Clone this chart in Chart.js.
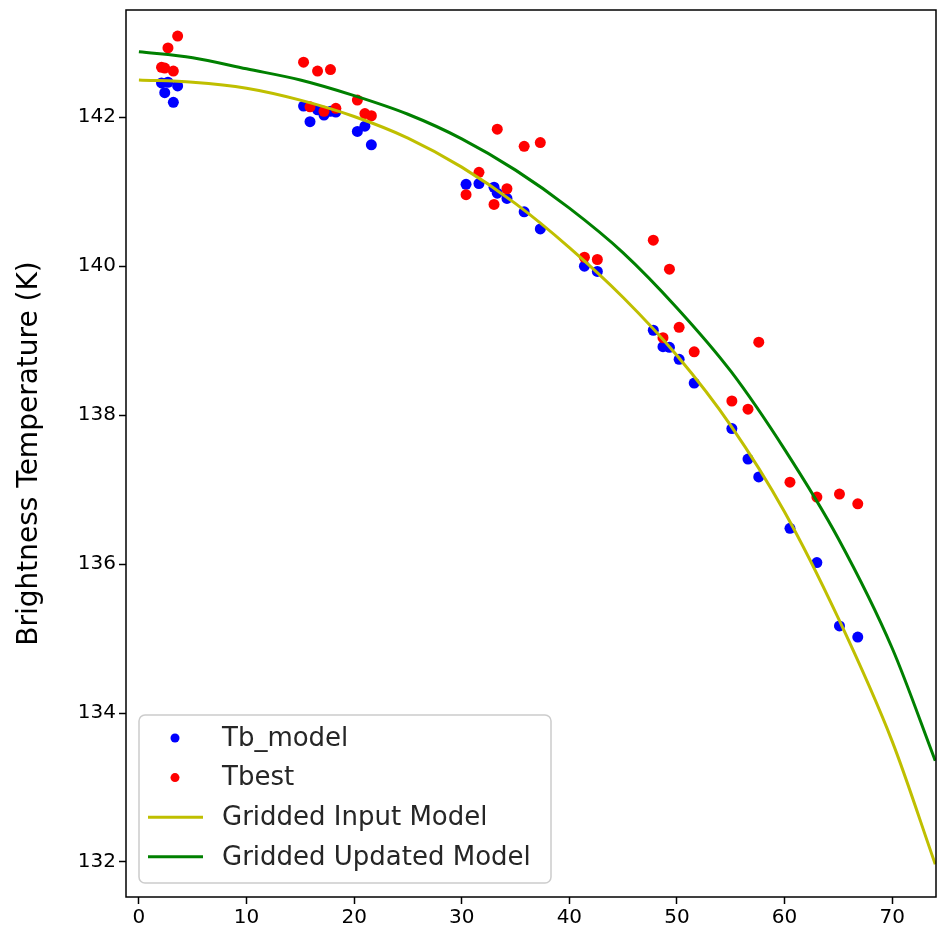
<!DOCTYPE html>
<html>
<head>
<meta charset="utf-8">
<script src="https://cdn.jsdelivr.net/npm/chart.js@4"></script>
<style>
    body { margin: 0; background: #fff; }
    #wrap { width: 938px; height: 942px; }
</style>
</head>
<body>
<div id="wrap"><canvas id="tbChart" width="938" height="942"></canvas></div>
<script>
// observation angles (shared by both point series)
const angles = [
    2.1, 2.4, 2.7, 3.2, 3.6,
    15.3, 15.9, 16.6, 17.2, 17.8, 18.3, 20.3, 21.0, 21.6,
    30.4, 31.6, 33.0, 33.3, 34.2, 35.8, 37.3,
    41.4, 42.6,
    47.8, 48.7, 49.3, 50.2, 51.6,
    55.1, 56.6, 57.6, 60.5, 63.0, 65.1, 66.8
];
const tbModel = [
    142.46, 142.33, 142.47, 142.20, 142.42,
    142.15, 141.94, 142.10, 142.03, 142.08, 142.07, 141.81, 141.88, 141.63,
    141.10, 141.11, 141.06, 140.98, 140.91, 140.73, 140.50,
    140.00, 139.93,
    139.14, 138.92, 138.91, 138.75, 138.43,
    137.82, 137.41, 137.17, 136.48, 136.02, 135.17, 135.02
];
const tbest = [
    142.67, 142.66, 142.93, 142.62, 143.09,
    142.74, 142.14, 142.62, 142.08, 142.64, 142.12, 142.23, 142.05, 142.02,
    140.96, 141.26, 140.83, 141.84, 141.04, 141.61, 141.66,
    140.12, 140.09,
    140.35, 139.04, 139.96, 139.18, 138.85,
    138.19, 138.08, 138.98, 137.10, 136.90, 136.94, 136.81
];

// gridded model curves
const gridAngles = [0, 5, 10, 15, 20, 25, 30, 35, 40, 45, 50, 55, 60, 65, 70, 74];
const inputModel = [142.50, 142.47, 142.39, 142.23, 142.01, 141.72, 141.33, 140.84, 140.25, 139.58, 138.80, 137.86, 136.70, 135.27, 133.62, 131.97];
const updatedModel = [142.88, 142.80, 142.65, 142.50, 142.29, 142.04, 141.71, 141.29, 140.78, 140.18, 139.44, 138.59, 137.54, 136.34, 134.87, 133.36];

const xTicks = [0, 10, 20, 30, 40, 50, 60, 70];
const yTicks = [132, 134, 136, 138, 140, 142];

const toPoints = (xs, ys) => xs.map((x, i) => ({ x: x, y: ys[i] }));

function noPad(s) {
    s.paddingTop = 0;
    s.paddingBottom = 0;
    s.paddingLeft = 0;
    s.paddingRight = 0;
}

// frame around the plot area
const frameBox = {
    id: 'frameBox',
    afterDatasetsDraw(chart) {
        const { ctx, chartArea: a } = chart;
        ctx.save();
        ctx.strokeStyle = '#000';
        ctx.lineWidth = 1.5;
        ctx.strokeRect(a.left, a.top, a.right - a.left, a.bottom - a.top);
        ctx.restore();
    }
};

// matplotlib style legend in the lower left corner
const innerLegend = {
    id: 'innerLegend',
    afterDraw(chart) {
        const ctx = chart.ctx;
        const a = chart.chartArea;
        const x = a.left + 13, y = a.bottom - 182, w = 412, h = 168;
        ctx.save();
        ctx.beginPath();
        ctx.roundRect(x, y, w, h, 6);
        ctx.fillStyle = 'rgba(255,255,255,0.8)';
        ctx.fill();
        ctx.strokeStyle = '#cccccc';
        ctx.lineWidth = 1.5;
        ctx.stroke();
        ctx.font = '26px "DejaVu Sans"';
        ctx.textBaseline = 'middle';
        chart.data.datasets.forEach((ds, i) => {
            const cy = y + 23 + i * 39.6;
            if (ds.showLine) {
                ctx.strokeStyle = ds.borderColor;
                ctx.lineWidth = 3;
                ctx.beginPath();
                ctx.moveTo(x + 9, cy);
                ctx.lineTo(x + 64, cy);
                ctx.stroke();
            } else {
                ctx.fillStyle = ds.backgroundColor;
                ctx.beginPath();
                ctx.arc(x + 36, cy, 4.5, 0, Math.PI * 2);
                ctx.fill();
            }
            ctx.fillStyle = '#262626';
            ctx.fillText(ds.label, x + 83, cy + 1);
        });
        ctx.restore();
    }
};

new Chart(document.getElementById('tbChart'), {
    type: 'scatter',
    data: {
        datasets: [{
            label: 'Tb_model',
            data: toPoints(angles, tbModel),
            backgroundColor: '#0000ff',
            pointRadius: 5.5,
            pointBorderWidth: 0,
            order: 4
        }, {
            label: 'Tbest',
            data: toPoints(angles, tbest),
            backgroundColor: '#ff0000',
            pointRadius: 5.5,
            pointBorderWidth: 0,
            order: 3
        }, {
            label: 'Gridded Input Model',
            data: toPoints(gridAngles, inputModel),
            showLine: true,
            borderColor: '#bfbf00',
            borderWidth: 3,
            pointRadius: 0,
            cubicInterpolationMode: 'monotone',
            order: 2
        }, {
            label: 'Gridded Updated Model',
            data: toPoints(gridAngles, updatedModel),
            showLine: true,
            borderColor: '#008000',
            borderWidth: 3,
            pointRadius: 0,
            cubicInterpolationMode: 'monotone',
            order: 1
        }]
    },
    options: {
        responsive: false,
        animation: false,
        layout: {
            autoPadding: false,
            padding: { top: 10, right: 2, left: 0, bottom: 0 }
        },
        scales: {
            x: {
                type: 'linear',
                min: -1.2,
                max: 74.07,
                afterBuildTicks: s => { s.ticks = xTicks.map(v => ({ value: v })); },
                afterFit: s => { s.height = 45; noPad(s); },
                ticks: {
                    font: { size: 20, family: 'DejaVu Sans' },
                    color: '#000',
                    padding: 2,
                    maxRotation: 0
                },
                grid: {
                    drawOnChartArea: false,
                    tickLength: 7,
                    tickWidth: 1.5,
                    color: '#000'
                },
                border: { display: false }
            },
            y: {
                min: 131.53,
                max: 143.44,
                afterBuildTicks: s => { s.ticks = yTicks.map(v => ({ value: v })); },
                afterFit: s => { s.width = 126; noPad(s); },
                ticks: {
                    font: { size: 20, family: 'DejaVu Sans' },
                    color: '#000',
                    padding: 3
                },
                grid: {
                    drawOnChartArea: false,
                    tickLength: 7,
                    tickWidth: 1.5,
                    color: '#000'
                },
                border: { display: false },
                title: {
                    display: true,
                    text: 'Brightness Temperature (K)',
                    font: { size: 28, family: 'DejaVu Sans' },
                    color: '#000',
                    padding: { top: 13, bottom: 0 }
                }
            }
        },
        plugins: {
            legend: { display: false },
            tooltip: { enabled: false }
        }
    },
    plugins: [frameBox, innerLegend]
});
</script>
</body>
</html>
